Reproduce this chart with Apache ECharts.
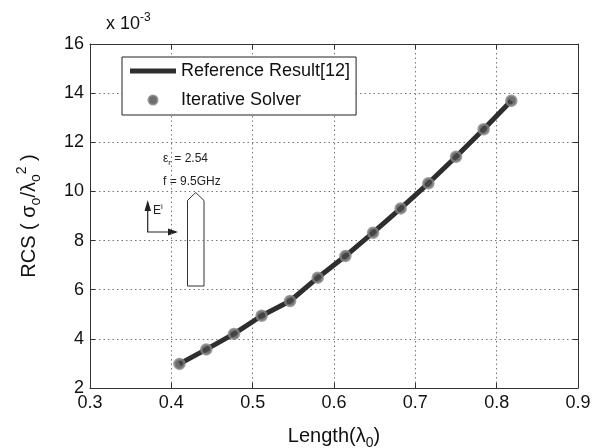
<!DOCTYPE html>
<html><head><meta charset="utf-8">
<script src="https://cdn.jsdelivr.net/npm/echarts@6/dist/echarts.min.js"></script>
<style>html,body{margin:0;padding:0;background:#fff}#c{width:603px;height:448px}</style>
</head><body><div id="c"></div>
<script>
const lengths = [0.41, 0.443, 0.477, 0.511, 0.546, 0.58, 0.614, 0.648, 0.682, 0.716, 0.75, 0.784, 0.818];
const referenceRCS = [2.98, 3.57, 4.20, 4.94, 5.54, 6.49, 7.37, 8.32, 9.31, 10.33, 11.41, 12.53, 13.69];
const iterativeRCS = [2.98, 3.57, 4.20, 4.94, 5.54, 6.49, 7.37, 8.32, 9.31, 10.33, 11.41, 12.53, 13.69];
const xTicks = [0.3, 0.4, 0.5, 0.6, 0.7, 0.8, 0.9];
const yTicks = [2, 4, 6, 8, 10, 12, 14, 16];

const F = 'Liberation Sans, Arial, sans-serif';
const chart = echarts.init(document.getElementById('c'));
const pairs = (xs, ys) => xs.map((x, i) => [x, ys[i]]);
const gridDash = {show: true, lineStyle: {color: '#777', type: [1.5, 3], width: 1}};
chart.setOption({
  animation: false,
  textStyle: {fontFamily: F},
  grid: {left: 90, right: 25, top: 44, bottom: 60, containLabel: false, outerBoundsMode: 'none'},
  xAxis: [{
    type: 'value', min: xTicks[0], max: xTicks[xTicks.length - 1], interval: 0.1,
    axisLine: {lineStyle: {color: '#333', width: 1}},
    axisTick: {inside: true, length: 5, lineStyle: {color: '#333'}},
    axisLabel: {color: '#111', fontSize: 18, margin: 6, formatter: v => v.toFixed(1)},
    splitLine: gridDash,
    name: 'Length(λ{s|0})', nameLocation: 'middle', nameGap: 34,
    nameTextStyle: {color: '#111', fontSize: 20, rich: {s: {fontSize: 14, padding: [14, 0, 0, 0], color: '#111'}}}
  }, {
    type: 'value', position: 'top', min: 0.3, max: 0.9, interval: 0.1,
    axisLine: {show: true, lineStyle: {color: '#333'}},
    axisTick: {inside: true, length: 5, lineStyle: {color: '#333'}},
    axisLabel: {show: false}, splitLine: {show: false}
  }],
  yAxis: [{
    type: 'value', min: yTicks[0], max: yTicks[yTicks.length - 1], interval: 2,
    axisLine: {show: true, lineStyle: {color: '#333', width: 1}},
    axisTick: {show: true, inside: true, length: 5, lineStyle: {color: '#333'}},
    axisLabel: {color: '#111', fontSize: 18, margin: 6},
    splitLine: gridDash,
    name: 'RCS ( σ{s|o}/λ{s|o}{p|2} )', nameLocation: 'middle', nameGap: 47, nameRotate: 90,
    nameTextStyle: {color: '#111', fontSize: 20, rich: {s: {fontSize: 14, padding: [14, 0, 0, 0], color: '#111'}, p: {fontSize: 14, padding: [0, 0, 14, 0], color: '#111'}}}
  }, {
    type: 'value', position: 'right', min: 2, max: 16, interval: 2,
    axisLine: {show: true, lineStyle: {color: '#333'}},
    axisTick: {show: true, inside: true, length: 5, lineStyle: {color: '#333'}},
    axisLabel: {show: false}, splitLine: {show: false}
  }],
  legend: {
    orient: 'vertical', left: 122, top: 57, padding: [4, 6, 5, 8], itemGap: 9,
    itemWidth: 46, itemHeight: 9, backgroundColor: '#fff',
    borderColor: '#222', borderWidth: 1, borderRadius: 0,
    textStyle: {fontSize: 18, color: '#111', fontFamily: F, lineHeight: 20},
    data: [{name: 'Reference Result[12]', icon: 'path://M0,0 L46,0 L46,5 L0,5 Z'}, {name: 'Iterative Solver', icon: 'circle'}]
  },
  series: [{
    name: 'Reference Result[12]', type: 'line', data: pairs(lengths, referenceRCS),
    showSymbol: false, lineStyle: {color: '#2e2e2e', width: 5}, itemStyle: {color: '#2e2e2e'}, z: 2
  }, {
    name: 'Iterative Solver', type: 'scatter', data: pairs(lengths, iterativeRCS),
    symbol: 'circle', symbolSize: 10,
    itemStyle: {color: '#4a4a4a', borderColor: '#858585', borderWidth: 2.5}, z: 3
  }],
  graphic: [
    {type: 'text', left: 106, top: 12, style: {text: 'x 10{p|-3}', font: '18px ' + F, fill: '#111', rich: {p: {fontSize: 12, padding: [0, 0, 13, 0], fill: '#111'}}}},
    {type: 'text', left: 163, top: 153, style: {text: 'ε{s|r} = 2.54', font: '12px ' + F, fill: '#222', rich: {s: {fontSize: 8, padding: [8, 0, 0, 0], fill: '#222'}}}},
    {type: 'text', left: 163, top: 176, style: {text: 'f = 9.5GHz', font: '12px ' + F, fill: '#222'}},
    {type: 'polygon', shape: {points: [[187.5, 200.5], [195.7, 192.5], [204, 200.5], [204, 286], [187.5, 286]]}, style: {fill: '#fff', stroke: '#333', lineWidth: 1}},
    {type: 'polyline', shape: {points: [[147.7, 203], [147.7, 232], [176, 232]]}, style: {stroke: '#222', lineWidth: 1.2, fill: null}},
    {type: 'polygon', shape: {points: [[144.5, 211], [147.7, 200], [151, 211]]}, style: {fill: '#222'}},
    {type: 'polygon', shape: {points: [[168, 228.5], [178, 232], [168, 235.5]]}, style: {fill: '#222'}},
    {type: 'text', left: 153, top: 203, style: {text: 'E{p|i}', font: '12px ' + F, fill: '#222', rich: {p: {fontSize: 8, padding: [0, 0, 8, 0], fill: '#222'}}}}
  ]
});
</script></body></html>
